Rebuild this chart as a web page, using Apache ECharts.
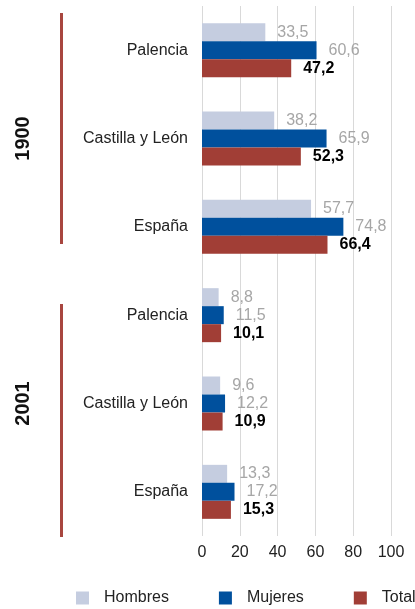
<!DOCTYPE html>
<html>
<head>
<meta charset="utf-8">
<script src="https://cdn.jsdelivr.net/npm/echarts@6/dist/echarts.min.js"></script>
<style>
  html, body { margin: 0; padding: 0; background: #fff; }
  #main { width: 415px; height: 609px; }
</style>
</head>
<body>
<div id="main"></div>
<script>
const categories = ['Palencia', 'Castilla y León', 'España', 'Palencia ', 'Castilla y León ', 'España ']
const years = ['1900', '2001']
const hombres = [33.5, 38.2, 57.7, 8.8, 9.6, 13.3]
const mujeres = [60.6, 65.9, 74.8, 11.5, 12.2, 17.2]
const total = [47.2, 52.3, 66.4, 10.1, 10.9, 15.3]
const xTicks = [0, 20, 40, 60, 80, 100]

const FONT = '"Liberation Sans", Arial, sans-serif'
const myChart = echarts.init(document.getElementById('main'))

const comma = p => String(p.value).replace('.', ',')

function barSeries (name, data, color, labelColor, bold) {
  return {
    name: name,
    type: 'bar',
    data: data,
    barWidth: 18,
    barGap: '0%',
    itemStyle: { color: color },
    label: {
      show: true,
      position: 'right',
      distance: 12,
      formatter: comma,
      fontFamily: FONT,
      fontSize: 16,
      color: labelColor,
      fontWeight: bold ? 'bold' : 'normal'
    }
  }
}

const option = {
  animation: false,
  textStyle: { fontFamily: FONT },
  grid: { left: 202, right: 24, top: 6, bottom: 73 },
  legend: {
    left: 76,
    top: 590,
    width: 600,
    padding: 0,
    itemWidth: 13,
    itemHeight: 13,
    itemGap: 50,
    icon: 'rect',
    textStyle: { fontFamily: FONT, fontSize: 16, color: '#222', padding: [0, 0, 0, 10] },
    data: ['Hombres', 'Mujeres', 'Total']
  },
  xAxis: {
    type: 'value',
    min: xTicks[0],
    max: xTicks[xTicks.length - 1],
    interval: 20,
    axisLine: { show: false },
    axisTick: { show: false },
    splitLine: { lineStyle: { color: '#d9d9d9', width: 1 } },
    axisLabel: { fontFamily: FONT, fontSize: 16, color: '#222', margin: 9 }
  },
  yAxis: [
    {
      type: 'category',
      inverse: true,
      data: categories,
      axisLine: { show: false },
      axisTick: { show: false },
      axisLabel: {
        fontFamily: FONT,
        fontSize: 16,
        color: '#222',
        margin: 14,
        formatter: v => v.trim()
      }
    },
    {
      type: 'category',
      inverse: true,
      position: 'left',
      offset: 169,
      data: years,
      axisLine: { show: false },
      axisTick: { show: false },
      axisLabel: {
        rotate: 90,
        fontFamily: FONT,
        fontSize: 20,
        fontWeight: 'bold',
        color: '#111',
        margin: 0
      }
    }
  ],
  graphic: [
    { type: 'rect', shape: { x: 60, y: 13, width: 3, height: 231 }, style: { fill: '#a8463f' } },
    { type: 'rect', shape: { x: 60, y: 304, width: 3, height: 233 }, style: { fill: '#a8463f' } }
  ],
  series: [
    barSeries('Hombres', hombres, '#c5cde0', '#a6a6a6', false),
    barSeries('Mujeres', mujeres, '#00509d', '#a6a6a6', false),
    barSeries('Total', total, '#a13e36', '#000', true)
  ]
}

myChart.setOption(option)
</script>
</body>
</html>
